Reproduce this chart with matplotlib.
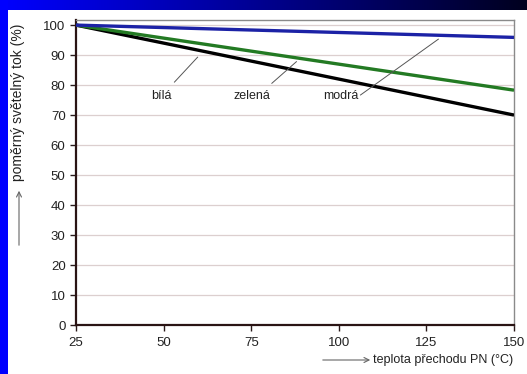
# Relative luminous flux of LEDs vs. PN junction temperature
import numpy as np
import matplotlib.pyplot as plt

plt.rcParams['font.family'] = ['Liberation Sans', 'DejaVu Sans']

temp = [25, 150]
flux_modra = [100, 95.9]
flux_zelena = [100, 78.3]
flux_bila = [100, 70.0]

# label text position (x, y) and leader line ((x0, y0), (x1, y1)), data coords
labels = ['bílá', 'zelená', 'modrá']
label_xy = [(49.5, 76.2), (75.1, 76.2), (100.6, 76.2)]
leaders = [((53.1, 81.0), (59.7, 89.3)),
           ((80.9, 80.6), (87.9, 87.8)),
           ((106.2, 76.7), (128.4, 95.3))]

W, H = 527, 374
fig = plt.figure(figsize=(W / 100, H / 100), dpi=100, facecolor='white')

# blue slide frame: gradient band on top, solid strip on the left
band = fig.add_axes([0, 1 - 10 / H, 1, 10 / H])
grad = np.linspace(0, 1, 256)
cols = np.array([[0, 0, 1.0]]) * (1 - grad[:, None]) + np.array([[0, 0, 0.12]]) * grad[:, None]
band.imshow(cols[None, :, :], aspect='auto', extent=[0, 1, 0, 1])
band.axis('off')
strip = fig.add_axes([0, 0, 8 / W, 1])
strip.set_facecolor('#0000ff')
strip.set_xticks([])
strip.set_yticks([])
for s in strip.spines.values():
    s.set_visible(False)

ax = fig.add_axes([76 / W, 1 - 325 / H, (514 - 76) / W, (325 - 20) / H])
ax.set_xlim(25, 150)
ax.set_ylim(0, 101.7)

ax.plot(temp, flux_bila, color='black', lw=2.4, solid_capstyle='butt', zorder=3)
ax.plot(temp, flux_zelena, color='#237a23', lw=2.4, solid_capstyle='butt', zorder=4)
ax.plot(temp, flux_modra, color='#1c22a6', lw=2.4, solid_capstyle='butt', zorder=5)

for name, (tx, ty), ((x0, y0), (x1, y1)) in zip(labels, label_xy, leaders):
    ax.text(tx, ty, name, ha='center', va='center', fontsize=9, color='#222222')
    ax.plot([x0, x1], [y0, y1], color='#555555', lw=0.7, zorder=6)

ax.set_xticks([25, 50, 75, 100, 125, 150])
ax.set_yticks(range(0, 101, 10))
ax.yaxis.grid(True, color='#dccfcf', lw=0.9)
ax.set_axisbelow(True)
ax.tick_params(direction='out', length=4, width=1, colors='#2a1a1a',
               labelsize=9.5, labelcolor='#222222')
ax.tick_params(axis='x', pad=5)
for side in ['left', 'bottom']:
    ax.spines[side].set_color('#2a1414')
    ax.spines[side].set_linewidth(1.6)
for side in ['top', 'right']:
    ax.spines[side].set_color('#8a8a8a')
    ax.spines[side].set_linewidth(1.0)

# axis titles with arrows
fig.text(18 / W, 1 - 102 / H, 'poměrný světelný tok (%)', rotation=90,
         ha='center', va='center', fontsize=10, color='#222222')
fig.add_artist(plt.matplotlib.patches.FancyArrowPatch(
    (19 / W, 1 - 248 / H), (19 / W, 1 - 188 / H), transform=fig.transFigure,
    arrowstyle='->', mutation_scale=9, color='#666666', lw=0.8))
fig.text(373 / W, 1 - 360 / H, 'teplota přechodu PN (°C)',
         ha='left', va='center', fontsize=9, color='#222222')
fig.add_artist(plt.matplotlib.patches.FancyArrowPatch(
    (320 / W, 1 - 360 / H), (373 / W, 1 - 360 / H), transform=fig.transFigure,
    arrowstyle='->', mutation_scale=9, color='#666666', lw=0.8))

fig.savefig('out.png', dpi=100, facecolor='white')
